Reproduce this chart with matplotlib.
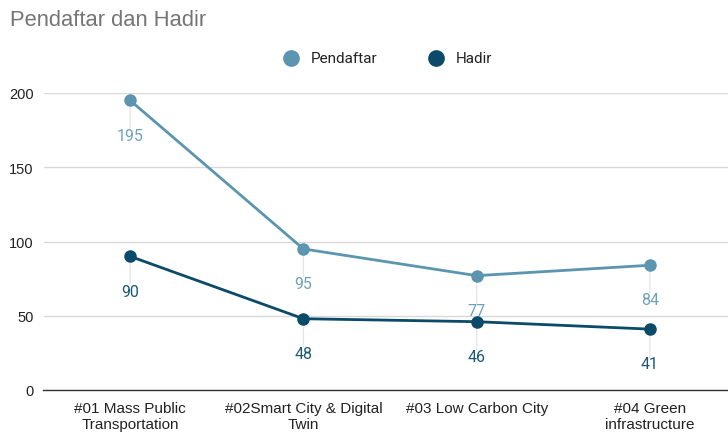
import matplotlib
matplotlib.use("Agg")
import matplotlib.pyplot as plt
from matplotlib.lines import Line2D

categories = ["#01 Mass Public\nTransportation", "#02Smart City & Digital\nTwin",
              "#03 Low Carbon City", "#04 Green\ninfrastructure"]
pendaftar = [195, 95, 77, 84]
hadir = [90, 48, 46, 41]
series_names = ["Pendaftar", "Hadir"]
yticks = [0, 50, 100, 150, 200]

c_light = "#5b95b0"
c_light_lbl = "#6fa3bd"
c_dark = "#0b4a68"
c_dark_lbl = "#1b5977"

fig = plt.figure(figsize=(7.28, 4.35), dpi=100)
W, H = 728, 435
ax = fig.add_axes([43.5 / W, 1 - 391 / H, (728 - 43.5) / W, (391 - 94) / H])

x = list(range(len(categories)))
for vals, col, lcol in [(pendaftar, c_light, c_light_lbl), (hadir, c_dark, c_dark_lbl)]:
    ax.plot(x, vals, color=col, lw=2, marker="o", ms=8, zorder=3, clip_on=False)
    for xi, v in zip(x, vals):
        ax.annotate("", xy=(xi, v), xytext=(0, -20), textcoords="offset points",
                    xycoords="data",
                    arrowprops=dict(arrowstyle="-", color="#e6e6e6", lw=1, shrinkA=0, shrinkB=0),
                    zorder=1)
        ax.annotate(str(v), xy=(xi, v), xytext=(0, -25), textcoords="offset points",
                    ha="center", va="center", color=lcol, fontsize=11.5, family="Roboto")

ax.set_xlim(-0.5, 3.5 - 8.5 / 173)
ax.set_ylim(0, 200)
ax.set_yticks(yticks)
ax.set_yticklabels([str(t) for t in yticks], family="Liberation Sans", fontsize=10.5, color="#222222")
ax.set_xticks(x)
ax.set_xticklabels(categories, family="Liberation Sans", fontsize=11, color="#222222", linespacing=1.15)
ax.tick_params(length=0, axis="both")
ax.tick_params(axis="y", pad=7)
ax.tick_params(axis="x", pad=8)
ax.grid(axis="y", color="#d9d9d9", lw=1)
ax.set_axisbelow(True)
for s in ["top", "right", "left"]:
    ax.spines[s].set_visible(False)
ax.spines["bottom"].set_color("#333333")
ax.spines["bottom"].set_linewidth(1)
ax.spines["bottom"].set_zorder(2)

fig.text(10 / W, 1 - 20 / H, "Pendaftar dan Hadir", family="Liberation Sans", fontsize=15.8,
         color="#757575", va="center", ha="left")

# legend drawn manually in figure coordinates
leg_y = 1 - 59 / H
for name, col, mx in zip(series_names, (c_light, c_dark), (291, 436)):
    fig.add_artist(Line2D([mx / W], [leg_y], marker="o", ls="none", ms=11, color=col,
                          transform=fig.transFigure))
    fig.text((mx + 20) / W, leg_y, name, family="Roboto", fontsize=11, color="#222222",
             va="center", ha="left")

fig.savefig("out.png", dpi=100)
